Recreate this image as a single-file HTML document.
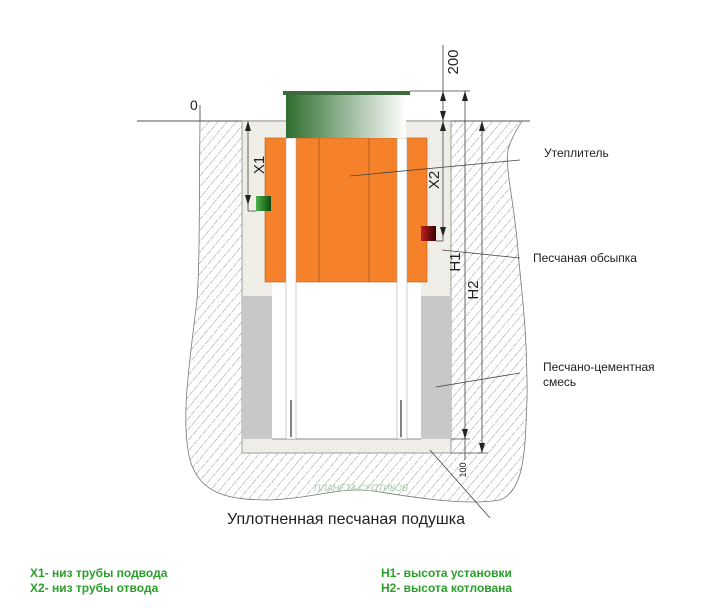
<!DOCTYPE html><html><head><meta charset="utf-8"><style>body{margin:0;background:#fff}svg{display:block}</style></head><body>
<svg width="703" height="608" viewBox="0 0 703 608" xmlns="http://www.w3.org/2000/svg" font-family="Liberation Sans, sans-serif">
<defs>
<pattern id="h" width="7" height="7" patternUnits="userSpaceOnUse" patternTransform="rotate(40)"><line x1="0" y1="0" x2="0" y2="7" stroke="#8a8a8a" stroke-width="0.9" stroke-dasharray="6 1.5"/></pattern>
<pattern id="s" width="4" height="4" patternUnits="userSpaceOnUse"><rect width="4" height="4" fill="#f1efe9"/><circle cx="1" cy="1" r="0.5" fill="#d6d2c8"/><circle cx="3" cy="3" r="0.4" fill="#ddd"/></pattern>
<linearGradient id="g" x1="0" x2="1"><stop offset="0" stop-color="#2f6e2f"/><stop offset="1" stop-color="#fff"/></linearGradient>
<linearGradient id="g1" x1="0" x2="1"><stop offset="0" stop-color="#4db34d"/><stop offset="1" stop-color="#0f4a0f"/></linearGradient>
<linearGradient id="g2" x1="0" x2="1"><stop offset="0" stop-color="#c02020"/><stop offset="1" stop-color="#3a0000"/></linearGradient>
</defs>
<path d="M200 121 C199 200 200 260 197 300 C190 360 180 420 190 460 C200 495 230 500 270 500 C320 498 340 485 380 492 C430 500 470 505 500 500 C525 490 525 450 527 400 C528 330 520 280 518 250 C514 200 505 170 508 150 C512 135 520 125 522 121 Z" fill="url(#h)" stroke="#777" stroke-width="0.8"/>
<line x1="137" y1="121" x2="530" y2="121" stroke="#555" stroke-width="1"/>
<rect x="242" y="121" width="209" height="332" fill="url(#s)" stroke="#888" stroke-width="0.8"/>
<rect x="242" y="296" width="30" height="143" fill="#c8c8c8"/>
<rect x="421" y="296" width="30" height="143" fill="#c8c8c8"/>
<rect x="272" y="282" width="149" height="157" fill="#fff"/>
<line x1="272" y1="439" x2="421" y2="439" stroke="#888"/>
<rect x="265" y="138" width="162" height="144" fill="#f5822a" stroke="#b5601f" stroke-width="0.6"/>
<line x1="319" y1="138" x2="319" y2="282" stroke="#b5601f"/><line x1="369" y1="138" x2="369" y2="282" stroke="#b5601f"/>
<rect x="286" y="138" width="10" height="301" fill="#fff" stroke="#999" stroke-width="0.5"/>
<rect x="397" y="138" width="10" height="301" fill="#fff" stroke="#999" stroke-width="0.5"/>
<line x1="291" y1="400" x2="291" y2="437" stroke="#333" stroke-width="1.2"/><line x1="401" y1="400" x2="401" y2="437" stroke="#333" stroke-width="1.2"/>
<rect x="286" y="94" width="120" height="44" fill="url(#g)"/>
<rect x="283" y="91" width="127" height="4" fill="#3d6b3d"/>
<rect x="256" y="196" width="15" height="15" fill="url(#g1)"/>
<rect x="421" y="226" width="15" height="15" fill="url(#g2)"/>
<g stroke="#444" stroke-width="0.8" fill="#222">
<line x1="248" y1="121" x2="248" y2="211"/><line x1="248" y1="211" x2="256" y2="211"/>
<line x1="443" y1="45" x2="443" y2="241"/><line x1="436" y1="241" x2="443" y2="241"/>
<line x1="410" y1="91" x2="470" y2="91"/>
<line x1="465" y1="91" x2="465" y2="460"/><line x1="482" y1="121" x2="482" y2="453"/>
<line x1="451" y1="439" x2="470" y2="439"/><line x1="451" y1="453" x2="488" y2="453"/>
<line x1="200" y1="121" x2="200" y2="105"/>
<line x1="350" y1="176" x2="520" y2="160"/><line x1="442" y1="250" x2="520" y2="258"/>
<line x1="436" y1="387" x2="520" y2="373"/><line x1="430" y1="450" x2="490" y2="518"/>
</g>
<g fill="#222">
<path d="M245 131 L248 121 L251 131Z"/><path d="M245 195 L248 205 L251 195Z"/>
<path d="M440 131 L443 121 L446 131Z"/><path d="M440 227 L443 237 L446 227Z"/>
<path d="M440 101 L443 91 L446 101Z"/><path d="M440 111 L443 121 L446 111Z"/>
<path d="M462 101 L465 91 L468 101Z"/><path d="M462 429 L465 439 L468 429Z"/>
<path d="M479 131 L482 121 L485 131Z"/><path d="M479 443 L482 453 L485 443Z"/>
</g>
<g font-size="15" fill="#222">
<text x="190" y="110" font-size="14">0</text>
<text transform="translate(264,165) rotate(-90)" text-anchor="middle">X1</text>
<text transform="translate(439,180) rotate(-90)" text-anchor="middle">X2</text>
<text transform="translate(458,62) rotate(-90)" text-anchor="middle">200</text>
<text transform="translate(460,262) rotate(-90)" text-anchor="middle">H1</text>
<text transform="translate(478,290) rotate(-90)" text-anchor="middle">H2</text>
<text transform="translate(466,470) rotate(-90)" text-anchor="middle" font-size="9">100</text>
</g>
<g font-size="12" fill="#222">
<text x="544" y="157">Утеплитель</text>
<text x="533" y="262">Песчаная обсыпка</text>
<text x="543" y="371">Песчано-цементная</text>
<text x="543" y="386">смесь</text>
</g>
<text x="227" y="524" font-size="16" fill="#222">Уплотненная песчаная подушка</text>
<text x="314" y="491" font-size="9" fill="#a8c8a8" font-style="italic">ПЛАНЕТА СЕПТИКОВ</text>
<g font-size="12" font-weight="bold" fill="#2aa02a">
<text x="30" y="577">X1- низ трубы подвода</text>
<text x="30" y="592">X2- низ трубы отвода</text>
<text x="381" y="577">H1- высота установки</text>
<text x="381" y="592">H2- высота котлована</text>
</g>
</svg></body></html>
